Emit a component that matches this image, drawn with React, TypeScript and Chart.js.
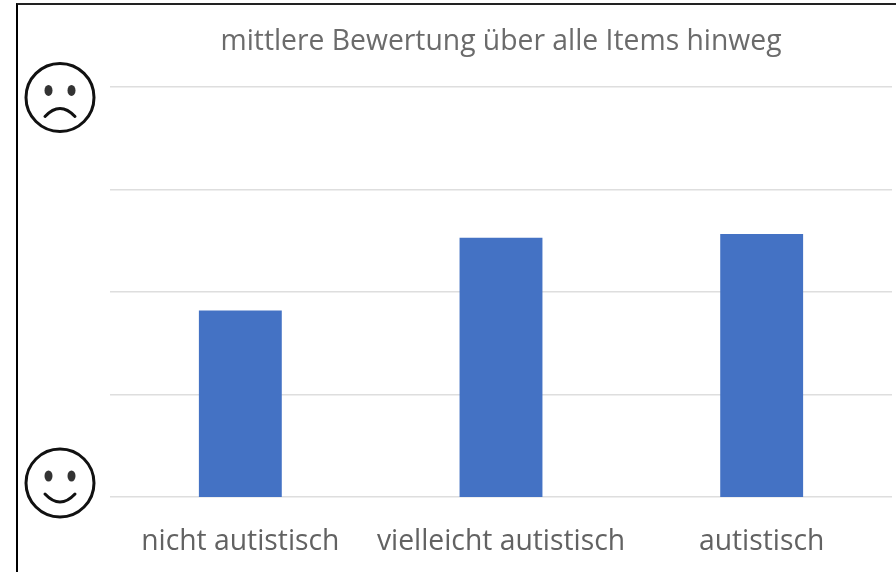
import React, { useEffect, useRef } from "react";
import { Chart, registerables } from "chart.js";

Chart.register(...registerables);

const categories = ["nicht autistisch", "vielleicht autistisch", "autistisch"];
const ratings = [2.82, 3.53, 3.565];
const titleText = "mittlere Bewertung über alle Items hinweg";
const FONT = '"Open Sans", sans-serif';

function drawFace(ctx: CanvasRenderingContext2D, cx: number, cy: number, happy: boolean) {
  ctx.save();
  ctx.strokeStyle = "#111111";
  ctx.fillStyle = "#333333";
  ctx.lineWidth = 3;
  ctx.lineCap = "round";
  ctx.beginPath();
  ctx.arc(cx, cy, 34, 0, Math.PI * 2);
  ctx.stroke();
  for (const dx of [-11.5, 11.5]) {
    ctx.beginPath();
    ctx.ellipse(cx + dx, cy - 7, 4, 5.5, 0, 0, Math.PI * 2);
    ctx.fill();
  }
  ctx.beginPath();
  if (happy) {
    ctx.moveTo(cx - 15, cy + 11);
    ctx.quadraticCurveTo(cx, cy + 27, cx + 15, cy + 11);
  } else {
    ctx.moveTo(cx - 15, cy + 19);
    ctx.quadraticCurveTo(cx, cy + 3, cx + 15, cy + 19);
  }
  ctx.stroke();
  ctx.restore();
}

const facesPlugin = {
  id: "faces",
  afterDraw(chart: any) {
    const y = chart.scales.y;
    drawFace(chart.ctx, 60, y.getPixelForValue(5) + 10.5, false);
    drawFace(chart.ctx, 60, y.getPixelForValue(1) - 14, true);
  },
};

export default function App() {
  const ref = useRef<HTMLCanvasElement>(null);
  useEffect(() => {
    const chart = new Chart(ref.current!, {
      type: "bar",
      data: {
        labels: categories,
        datasets: [
          {
            data: ratings,
            backgroundColor: "#4472C4",
            categoryPercentage: 0.318,
            barPercentage: 1,
          },
        ],
      },
      options: {
        animation: false,
        responsive: false,
        layout: { padding: { left: 110, right: 4, top: 25, bottom: 0 } },
        plugins: {
          legend: { display: false },
          tooltip: { enabled: false },
          title: {
            display: true,
            text: titleText,
            fullSize: false,
            color: "#6b6b6b",
            font: { family: FONT, size: 28.3, weight: "normal" },
            padding: { top: 0, bottom: 28 },
          },
        },
        scales: {
          x: {
            grid: { display: false },
            border: { display: false },
            afterFit(scale: any) {
              scale.height = 75;
            },
            ticks: {
              color: "#626262",
              font: { family: FONT, size: 28.3 },
              maxRotation: 0,
              padding: 20,
            },
          },
          y: {
            min: 1,
            max: 5,
            ticks: { display: false, stepSize: 1 },
            border: { display: false },
            grid: { color: "#dedede", lineWidth: 1.6, drawTicks: false },
          },
        },
      },
      plugins: [facesPlugin],
    });
    return () => chart.destroy();
  }, []);
  return (
    <div style={{ position: "absolute", left: 0, top: 0, width: 896, height: 572, background: "#fff", overflow: "hidden" }}>
      <canvas ref={ref} width={896} height={572} style={{ display: "block" }} />
      <div
        style={{
          position: "absolute",
          left: 16,
          top: 3,
          width: 880,
          height: 569,
          boxSizing: "border-box",
          borderLeft: "2px solid #000",
          borderTop: "2px solid #222",
        }}
      />
    </div>
  );
}
